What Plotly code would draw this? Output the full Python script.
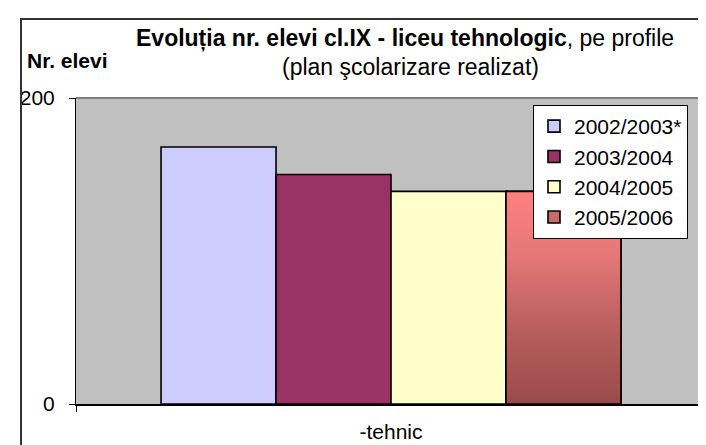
import plotly.graph_objects as go

# ---- data ----
categories = ["-tehnic"]
series_names = ["2002/2003*", "2003/2004", "2004/2005", "2005/2006"]
values = [168, 150, 139, 139]
y_ticks = [0, 200]

# ---- style ----
colors = ["#CCCCFF", "#993366", "#FFFFCC", "#C86A6A"]
gradient = [[0, "#9a4a4a"], [0.35, "#b85e5e"], [0.7, "#e67777"], [1, "#ff8080"]]
FONT = "Liberation Sans, Arial, sans-serif"
BARGAP = 0.27

W, H = 706, 445
ML, MR, MT, MB = 68, 8, 90, 49
PW, PH = W - ML - MR, H - MT - MB


def px(x):
    return (x - ML) / PW


def py(y):
    return (H - MB - y) / PH


fig = go.Figure()
xpos = list(range(len(categories)))
for name, v, c in zip(series_names, values, colors):
    fig.add_trace(go.Bar(
        x=xpos, y=[v], name=name,
        marker=dict(color=c, line=dict(color="black", width=1.6)),
    ))

# gradient fill for the last series, placed over its bar using group geometry
n = len(series_names)
gw = 1 - BARGAP
bw = gw / n
i = n - 1
x0 = xpos[0] - gw / 2 + i * bw
x1 = x0 + bw
v = values[i]
fig.add_trace(go.Scatter(
    x=[x0, x1, x1, x0, x0], y=[0, 0, v, v, 0],
    mode="lines", fill="toself",
    fillgradient=dict(type="vertical", colorscale=gradient),
    line=dict(color="black", width=1.6),
    showlegend=False, hoverinfo="skip",
))

fig.update_layout(
    width=W, height=H,
    margin=dict(l=ML, r=MR, t=MT, b=MB),
    paper_bgcolor="white", plot_bgcolor="#C0C0C0",
    barmode="group", bargap=BARGAP, bargroupgap=0,
    font=dict(family=FONT, color="black", size=20),
    showlegend=True,
    legend=dict(
        x=px(525), y=py(97), xanchor="left", yanchor="top",
        bgcolor="white", bordercolor="black", borderwidth=1,
        font=dict(size=21, family=FONT), traceorder="normal",
    ),
    xaxis=dict(
        range=[-0.5, 0.5], tickmode="array", tickvals=xpos, ticktext=categories,
        ticks="", showgrid=False, zeroline=False,
        showline=True, linecolor="black", linewidth=2,
        tickfont=dict(size=21), ticklabelstandoff=8,
        minor=dict(tickmode="array", tickvals=[-0.5, 0.5], ticks="outside",
                   ticklen=6, tickcolor="black", tickwidth=1),
    ),
    yaxis=dict(
        range=[0, 200], tickmode="array", tickvals=y_ticks,
        ticks="outside", ticklen=6, tickcolor="black",
        showgrid=False, zeroline=False,
        showline=True, linecolor="black", linewidth=1,
        tickfont=dict(size=21), ticklabelstandoff=10,
    ),
    shapes=[
        dict(type="line", xref="paper", yref="paper", x0=0, x1=1, y0=1, y1=1,
             line=dict(color="#808080", width=2), layer="above"),
        dict(type="line", xref="paper", yref="paper", x0=1, x1=1, y0=0, y1=1,
             line=dict(color="#808080", width=2), layer="above"),
        dict(type="rect", xref="paper", yref="paper",
             x0=px(13), x1=px(720), y0=py(460), y1=py(11),
             line=dict(color="#333333", width=2), layer="above"),
    ],
    annotations=[
        dict(text="<b>Evoluția nr. elevi cl.IX - liceu tehnologic</b>, pe profile",
             x=px(397), y=py(30), xref="paper", yref="paper",
             xanchor="center", yanchor="middle", showarrow=False,
             font=dict(size=23, family=FONT)),
        dict(text="(plan şcolarizare realizat)",
             x=px(402), y=py(59), xref="paper", yref="paper",
             xanchor="center", yanchor="middle", showarrow=False,
             font=dict(size=23, family=FONT)),
        dict(text="<b>Nr. elevi</b>",
             x=px(17), y=py(52), xref="paper", yref="paper",
             xanchor="left", yanchor="middle", showarrow=False,
             font=dict(size=21, family=FONT)),
    ],
)

fig.write_html("out.html")
